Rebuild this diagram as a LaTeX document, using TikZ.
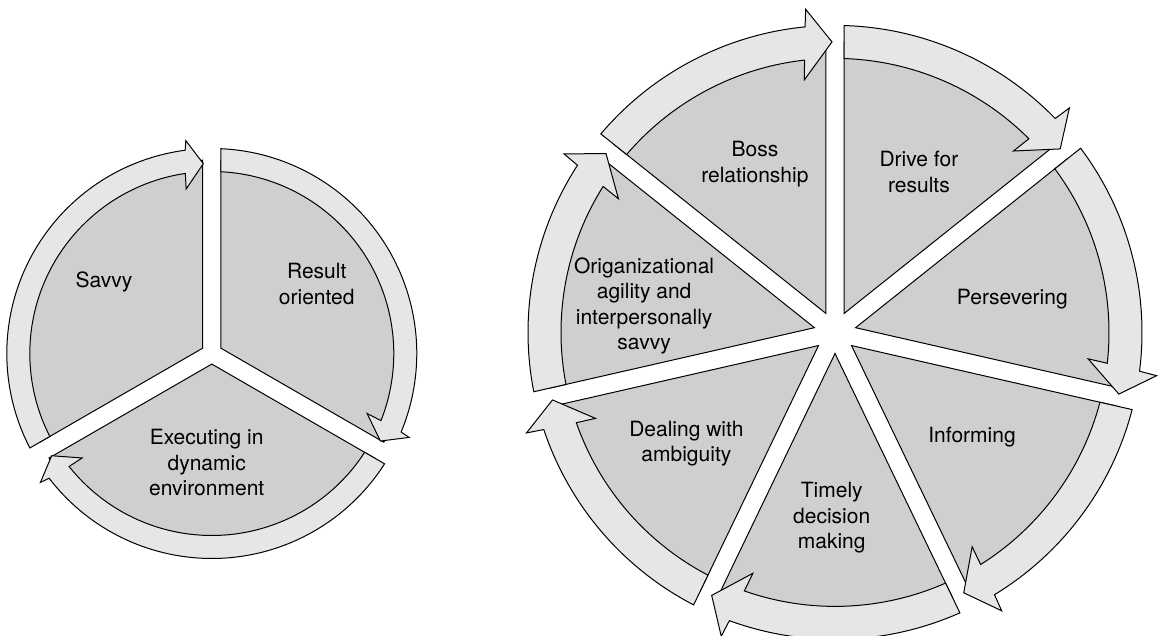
\documentclass[tikz,border=0pt]{standalone}
\usepackage{fontspec}
\setmainfont{TeX Gyre Heros}
\definecolor{segfill}{HTML}{CFCFCF}
\definecolor{ringfill}{HTML}{E6E6E6}

\begin{document}
\begin{tikzpicture}[
    x=0.5pt, y=0.5pt,
    seg/.style={draw=black, fill=segfill, line width=0.5pt},
    ring/.style={draw=black, fill=ringfill, line width=0.5pt, line join=miter},
    lbl/.style={align=center, inner sep=0pt, font=\fontsize{10.5}{12.8}\selectfont}
  ]
    \useasboundingbox (0,0) rectangle (1161,636);

    % three part cycle
    \begin{scope}[shift={(211.8,282.5)}]
      \foreach \k in {0,1,2} {
        \pgfmathsetmacro\ga{90-120*\k}
        \pgfmathsetmacro\sa{\ga-asin(9.15/193.5)}
        \pgfmathsetmacro\sb{\ga-120+asin(9.15/193.5)}
        \path[seg] ({\ga-60}:10.57) -- (\sa:193.5)
          arc[start angle=\sa, end angle=\sb, radius=193.5] -- cycle;
      }
      \foreach \k in {0,1,2} {
        \pgfmathsetmacro\ga{90-120*\k}
        \pgfmathsetmacro\ao{\ga-asin(9.15/205)}
        \pgfmathsetmacro\ai{\ga-asin(9.15/182)}
        \pgfmathsetmacro\tp{\ga-120+asin(8.5/190)}
        \pgfmathsetmacro\ho{\tp+4.9}
        \pgfmathsetmacro\hi{\tp+5.8}
        \path[ring] (\ao:205) arc[start angle=\ao, end angle=\ho, radius=205]
          -- ({\tp+4.4}:214.5) -- (\tp:190) -- ({\tp+6.3}:166.5) -- (\hi:182)
          arc[start angle=\hi, end angle=\ai, radius=182] -- cycle;
      }
    \end{scope}

    % seven part cycle
    \begin{scope}[shift={(835,303.6)}]
      \foreach \k in {0,...,6} {
        \pgfmathsetmacro\ga{90-360/7*\k}
        \pgfmathsetmacro\sa{\ga-asin(9.15/290.5)}
        \pgfmathsetmacro\sb{\ga-360/7+asin(9.15/290.5)}
        \path[seg] ({\ga-180/7}:21.1) -- (\sa:290.5)
          arc[start angle=\sa, end angle=\sb, radius=290.5] -- cycle;
      }
      \foreach \k in {0,...,6} {
        \pgfmathsetmacro\ga{90-360/7*\k}
        \pgfmathsetmacro\ao{\ga-asin(9.15/307)}
        \pgfmathsetmacro\ai{\ga-asin(9.15/274)}
        \pgfmathsetmacro\tp{\ga-360/7+asin(3/290.5)}
        \pgfmathsetmacro\ho{\tp+5.0}
        \pgfmathsetmacro\hi{\tp+5.8}
        \path[ring] (\ao:307) arc[start angle=\ao, end angle=\ho, radius=307]
          -- ({\tp+4.6}:324.5) -- (\tp:290.5) -- ({\tp+6.3}:254.5) -- (\hi:274)
          arc[start angle=\hi, end angle=\ai, radius=274] -- cycle;
      }
    \end{scope}

    \node[lbl] (savvy) at (104,354.3) {Savvy};
    \node[lbl] (result) at (316.7,351.8) {Result\\oriented};
    \node[lbl] (exec) at (206.7,173.3) {Executing in\\dynamic\\environment};

    \node[lbl] (boss) at (754.9,471.9) {Boss\\relationship};
    \node[lbl] (drive) at (918.9,464.2) {Drive for\\results};
    \node[lbl] (persev) at (1012.3,336.6) {Persevering};
    \node[lbl] (inform) at (972,198.7) {Informing};
    \node[lbl] (timely) at (831.7,118) {Timely\\decision\\making};
    \node[lbl] (ambig) at (686.4,192.4) {Dealing with\\ambiguity};
    \node[lbl] (orgag) at (644.1,330.1) {Origanizational\\agility and\\interpersonally\\savvy};
\end{tikzpicture}
\end{document}
